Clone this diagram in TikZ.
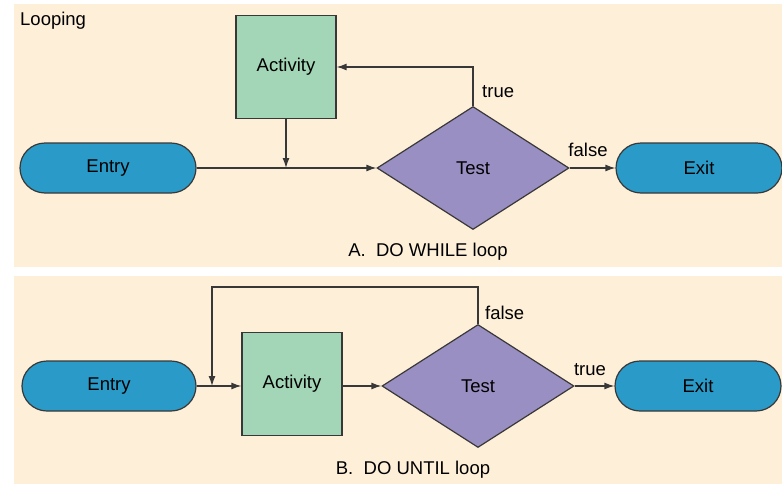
\documentclass[tikz,border=0pt]{standalone}
\usepackage{fontspec}
\setmainfont{Liberation Sans}
\usetikzlibrary{shapes.geometric,arrows.meta}
\definecolor{panelbg}{HTML}{FEEFD9}
\definecolor{actgreen}{HTML}{A2D6B6}
\definecolor{termblue}{HTML}{2A9BC8}
\definecolor{testpurple}{HTML}{9A8FC2}
\definecolor{edge}{HTML}{383838}
\tikzset{
  x=1pt, y=-1pt,
  lbl/.style={font=\fontsize{18.5}{20}\selectfont, text=black, inner sep=0pt},
  terminal/.style={lbl, draw=edge, line width=1.2pt, fill=termblue, rectangle, rounded corners=25pt, minimum height=50pt},
  actbox/.style={lbl, draw=edge, line width=1.2pt, fill=actgreen, rectangle, minimum width=100pt, minimum height=103pt},
  testbox/.style={lbl, draw=edge, line width=1.2pt, fill=testpurple, diamond, minimum width=192pt, minimum height=123pt},
  arr/.style={draw=edge, line width=1.3pt, -{Latex[length=10pt,width=7pt]}},
  ln/.style={draw=edge, line width=1.3pt},
  panel/.style={fill=panelbg, draw=none}
}
\begin{document}
\begin{tikzpicture}
\useasboundingbox (0,0) rectangle (782,485);
\fill[white] (0,0) rectangle (782,485);
\fill[panel] (14,4) rectangle (782,267);
\fill[panel] (14,276) rectangle (782,484);

% Panel A
\node[lbl, anchor=west] (looping) at (20,21) {Looping};
\node[actbox] (actA) at (286,67) {Activity};
\node[terminal, minimum width=176pt] (entryA) at (108,168) {Entry};
\node[testbox] (testA) at (473,168) {Test};
\node[terminal, minimum width=166pt] (exitA) at (699,168) {Exit};
\coordinate (jA) at (286,168);
\draw[arr] (entryA.east) -- (testA.west);
\draw[arr] (actA.south) -- (jA);
\draw[arr] (testA.north) |- (actA.east);
\draw[arr] (testA.east) -- (exitA.west);
\node[lbl, anchor=west] (trueA) at (482,92) {true};
\node[lbl] (falseA) at (588,150) {false};
\node[lbl] (capA) at (428,252) {A.\ \ DO WHILE loop};

% Panel B
\node[terminal, minimum width=174pt] (entryB) at (109,386) {Entry};
\node[actbox] (actB) at (292,384) {Activity};
\node[testbox] (testB) at (478,386) {Test};
\node[terminal, minimum width=166pt] (exitB) at (698,386) {Exit};
\coordinate (jB) at (212,386);
\coordinate (topB) at (212,287);
\draw[arr] (entryB.east) -- (entryB.east -| actB.west);
\draw[arr] (testB.north) |- (topB) -- (jB);
\draw[arr] (entryB.east -| actB.east) -- (testB.west);
\draw[arr] (testB.east) -- (exitB.west);
\node[lbl, anchor=west] (falseB) at (485,313) {false};
\node[lbl] (trueB) at (590,370) {true};
\node[lbl] (capB) at (413,470) {B.\ \ DO UNTIL loop};
\end{tikzpicture}
\end{document}
